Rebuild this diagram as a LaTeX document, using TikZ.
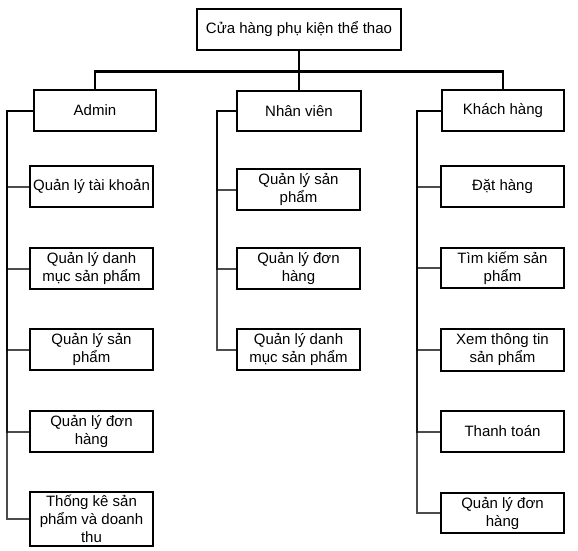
\documentclass[tikz,border=0pt]{standalone}
\usepackage{fontspec}
\setmainfont{Liberation Sans}
\begin{document}
\begin{tikzpicture}[x=1pt,y=-1pt,
  box/.style={draw=black,line width=2pt,fill=white,minimum width=123pt,minimum height=41pt,inner sep=1pt,align=center,font=\fontsize{15}{18}\selectfont},
  rootbox/.style={box,minimum width=204pt},
  link/.style={draw=black,line width=2pt},
  sublink/.style={draw=black,line width=2pt,draw opacity=0.7}]
\useasboundingbox (0,0) rectangle (578,551);
% connectors first (behind boxes)
\node[rootbox] (root) at (299,29.5) {Cửa hàng phụ kiện thể thao};
\node[box,minimum width=122pt] (admin) at (95,110.5) {Admin};
\node[box,minimum width=124pt,minimum height=40pt] (nv) at (299,111) {Nhân viên};
\node[box,minimum width=122pt] (kh) at (503,110.5) {Khách hàng};
% Admin children
\node[box] (a1) at (91.5,186.5) {Quản lý tài khoản};
\node[box] (a2) at (91.5,268.5) {Quản lý danh\\mục sản phẩm};
\node[box] (a3) at (91.5,349.5) {Quản lý sản\\phẩm};
\node[box] (a4) at (91.5,431.5) {Quản lý đơn\\hàng};
\node[box,minimum height=54pt,inner sep=0pt] (a5) at (91.5,519) {Thống kê sản\\phẩm và doanh\\thu};
% Nhan vien children
\node[box] (n1) at (298.5,189.5) {Quản lý sản\\phẩm};
\node[box] (n2) at (298.5,268.5) {Quản lý đơn\\hàng};
\node[box] (n3) at (298.5,349.5) {Quản lý danh\\mục sản phẩm};
% Khach hang children
\node[box] (k1) at (502.5,186.5) {Đặt hàng};
\node[box,minimum height=40pt] (k2) at (502.5,268) {Tìm kiếm sản\\phẩm};
\node[box,minimum height=42pt] (k3) at (502.5,350) {Xem thông tin\\sản phẩm};
\node[box] (k4) at (502.5,431.5) {Thanh toán};
\node[box,minimum height=40pt] (k5) at (502.5,513) {Quản lý đơn\\hàng};
% top connectors
\draw[link] (root.south) -- ++(0,20.5) coordinate (bus) -| (admin.north);
\draw[link] (bus) -| (nv.north);
\draw[link] (bus) -| (kh.north);
% child connectors
\foreach \c in {a1,a2,a3,a4,a5}
  \draw[sublink] (admin.west) -- ++(-26,0) |- (\c.west);
\foreach \c in {n1,n2,n3}
  \draw[sublink] (nv.west) -- ++(-19,0) |- (\c.west);
\foreach \c in {k1,k2,k3,k4,k5}
  \draw[sublink] (kh.west) -- ++(-24,0) |- (\c.west);
\end{tikzpicture}
\end{document}
